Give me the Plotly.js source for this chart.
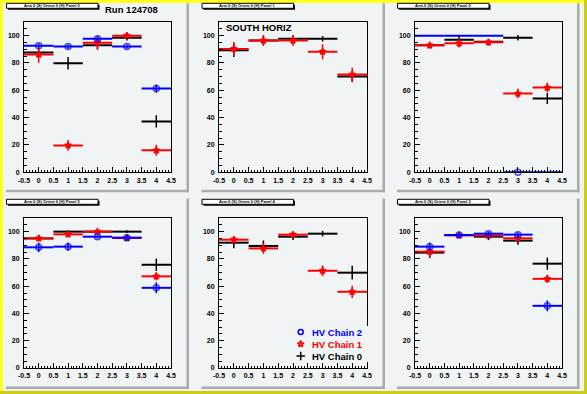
<!DOCTYPE html>
<html>
<head>
<meta charset="utf-8">
<script src="https://cdn.plot.ly/plotly-3.0.1.min.js"></script>
<style>
html,body{margin:0;padding:0;background:#f1f4f4;}
#chart{width:587px;height:394px;}
</style>
</head>
<body>
<div id="chart"></div>
<script>
// ---------------- data ----------------
const bins = [0, 1, 2, 3, 4];
const xTickVals = [-0.5, 0, 0.5, 1, 1.5, 2, 2.5, 3, 3.5, 4, 4.5];
const xTickText = ['-0.5', '0', '0.5', '1', '1.5', '2', '2.5', '3', '3.5', '4', '4.5'];
const yTickVals = [0, 20, 40, 60, 80, 100];
const yTickText = ['0', '20', '40', '60', '80', '100'];

const panelTitles = [
  'Arm 0 (S) Orient 0 (H) Panel 0', 'Arm 0 (S) Orient 0 (H) Panel 1', 'Arm 0 (S) Orient 0 (H) Panel 2',
  'Arm 0 (S) Orient 0 (H) Panel 5', 'Arm 0 (S) Orient 0 (H) Panel 4', 'Arm 0 (S) Orient 0 (H) Panel 3'
];
const seriesNames = ['HV Chain 0', 'HV Chain 1', 'HV Chain 2'];
const runLabel = 'Run 124708';
const regionLabel = 'SOUTH HORIZ';

// HV Chain 0 (black) – one row per panel
const chain0 = [
  [87.6, 79.8, 92.9, 98.5, 37.2],
  [89.3, 96.4, 97.8, 97.8, 70.1],
  [93.0, 97.1, 95.6, 98.5, 54.0],
  [95.0, 100.0, 100.0, 100.0, 75.7],
  [91.9, 89.5, 96.3, 98.5, 69.9],
  [84.6, 97.5, 96.3, 93.4, 76.5]
];
const chain0Err = [
  [2, 4.5, 3, 2, 4.5],
  [5, 3, 2, 2, 4],
  [2, 2.5, 2, 2, 4],
  [2, 1, 1, 1, 4.5],
  [4, 4, 2.5, 2, 5],
  [4, 1.5, 2.5, 3, 4.5]
];
// HV Chain 1 (red)
const chain1 = [
  [86.2, 19.7, 94.9, 100.0, 16.1],
  [90.3, 96.4, 96.4, 88.3, 71.5],
  [92.9, 94.4, 95.1, 57.7, 62.0],
  [95.1, 98.0, 100.0, 95.3, 67.2],
  [94.1, 87.7, 97.8, 71.3, 55.9],
  [85.3, 97.3, 97.1, 95.1, 65.4]
];
const chain1Err = [
  [6, 4, 5, 0.5, 4],
  [5, 4, 4, 5.5, 5],
  [2.5, 3, 2.5, 3.5, 3.5],
  [2, 2, 1, 1.5, 3],
  [2.5, 4, 2, 4, 4.5],
  [4, 1.5, 1.5, 2, 3]
];
// HV Chain 2 (blue)
const chain2 = [
  [92.7, 92.0, 97.8, 92.0, 61.3],
  [null, null, null, null, null],
  [100.0, 100.0, 100.0, 0.0, 0.0],
  [88.5, 89.0, 96.3, 95.6, 58.8],
  [null, null, null, null, null],
  [89.0, 97.5, 98.5, 97.8, 45.6]
];
const chain2Err = [
  [1.5, 1.5, 1.5, 1.5, 3],
  [0, 0, 0, 0, 0],
  [0, 0, 0, 1, 0],
  [3.5, 3, 1.5, 2, 4],
  [0, 0, 0, 0, 0],
  [3, 1.5, 1.5, 1.5, 4]
];
// whether a blue marker is drawn for a bin
const chain2Marked = [
  [1, 1, 1, 1, 1],
  [0, 0, 0, 0, 0],
  [0, 0, 0, 1, 0],
  [1, 1, 1, 1, 1],
  [0, 0, 0, 0, 0],
  [1, 1, 1, 1, 1]
];

// ---------------- styling / layout helpers ----------------
const W = 587, H = 394;
const PX = v => v / W;
const PY = v => 1 - v / H;
const BG = '#f1f4f4';
const colFrame = [[24, 171], [219, 367], [415, 562]];
const rowFrame = [[22, 172.3], [218, 368]];
const padX = [[6, 189], [201.5, 385], [397, 579.5]];
const padY = [[3.3, 192.3], [198.5, 389]];
const boxY = [[3.3, 8.3], [199.3, 204.3]];
const colors = ['#000000', '#ff0000', '#0000ff'];
const TF = 'Liberation Sans, Arial, sans-serif';

const traces = [];
const layout = {
  width: W, height: H,
  margin: {l: 0, r: 0, t: 0, b: 0},
  paper_bgcolor: BG, plot_bgcolor: BG,
  showlegend: false,
  shapes: [], annotations: []
};

function rect(x0, x1, y0, y1, fill, line, layer) {
  return {type: 'rect', xref: 'paper', yref: 'paper', x0: PX(x0), x1: PX(x1), y0: PY(y1), y1: PY(y0),
    fillcolor: fill, line: line || {width: 0}, layer: layer || 'below'};
}

// canvas border (yellow, raised)
layout.shapes.push(rect(0, 3, 0, 394, '#ffff20'));
layout.shapes.push(rect(0, 587, 0, 3, '#ffff20'));
layout.shapes.push(rect(584, 587, 0, 394, '#cccc10'));
layout.shapes.push(rect(0, 587, 391, 394, '#cccc10'));

const allSeries = [[chain0, chain0Err], [chain1, chain1Err], [chain2, chain2Err]];

for (let p = 0; p < 6; p++) {
  const c = p % 3, r = Math.floor(p / 3);
  const n = p + 1;
  const xa = 'xaxis' + (n === 1 ? '' : n), ya = 'yaxis' + (n === 1 ? '' : n);
  const xr = 'x' + (n === 1 ? '' : n), yr = 'y' + (n === 1 ? '' : n);
  layout[xa] = {
    domain: [PX(colFrame[c][0]), PX(colFrame[c][1])], anchor: yr,
    range: [-0.5, 4.5], tickmode: 'array', tickvals: xTickVals, ticktext: xTickText,
    ticks: 'inside', ticklen: 5, tickwidth: 1, tickcolor: '#000',
    minor: {tickmode: 'linear', tick0: -0.5, dtick: 0.1, ticks: 'inside', ticklen: 2.5, tickwidth: 1, tickcolor: '#000', showgrid: false},
    showline: true, mirror: true, linecolor: '#000', linewidth: 1,
    showgrid: false, zeroline: false, fixedrange: true,
    tickfont: {family: TF, size: 7, weight: 'bold', color: '#000'}, ticklabelstandoff: 1
  };
  layout[ya] = {
    domain: [PY(rowFrame[r][1]), PY(rowFrame[r][0])], anchor: xr,
    range: [0, 110], tickmode: 'array', tickvals: yTickVals, ticktext: yTickText,
    ticks: 'inside', ticklen: 5, tickwidth: 1, tickcolor: '#000',
    minor: {tickmode: 'linear', tick0: 0, dtick: 5, ticks: 'inside', ticklen: 2.5, tickwidth: 1, tickcolor: '#000', showgrid: false},
    showline: true, mirror: true, linecolor: '#000', linewidth: 1,
    showgrid: false, zeroline: false, fixedrange: true,
    tickfont: {family: TF, size: 7, weight: 'bold', color: '#000'}, ticklabelstandoff: 2
  };

  // pad shadow (right & bottom)
  layout.shapes.push(rect(padX[c][1] - 2.5, padX[c][1], padY[r][0], padY[r][1], '#aaaaaa'));
  layout.shapes.push(rect(padX[c][0], padX[c][1], padY[r][1] - 2.5, padY[r][1], '#aaaaaa'));

  // small title box with shadow
  const bx0 = padX[c][0] + 0.5, bx1 = padX[c][0] + 92;
  layout.shapes.push(rect(bx0 + 1.5, bx1 + 1.5, boxY[r][0] + 1.5, boxY[r][1] + 1.5, '#000', {width: 0}, 'above'));
  layout.shapes.push(rect(bx0, bx1, boxY[r][0], boxY[r][1], '#ffffff', {color: '#000', width: 1}, 'above'));
  layout.annotations.push({xref: 'paper', yref: 'paper', x: PX((bx0 + bx1) / 2), y: PY((boxY[r][0] + boxY[r][1]) / 2),
    text: panelTitles[p], showarrow: false, xanchor: 'center', yanchor: 'middle',
    font: {family: TF, size: 4, color: '#000', weight: 'bold'}});

  // data: black, red, blue
  allSeries.forEach(([vals, errs], s) => {
    let marker;
    if (s === 0) marker = {size: 1, opacity: 0, color: colors[0]};
    else if (s === 1) marker = {symbol: 'star-open', size: 5, color: colors[1], line: {width: 1.5, color: colors[1]}};
    else marker = {symbol: 'circle-open', size: chain2Marked[p].map(m => m ? 6 : 0), color: colors[2], line: {width: 1.5, color: colors[2]}};
    traces.push({
      type: 'scatter', mode: 'markers', xaxis: xr, yaxis: yr,
      x: bins, y: vals[p], marker: marker, cliponaxis: false,
      error_x: {type: 'constant', value: 0.5, width: 0, thickness: 2, color: colors[s]},
      error_y: {type: 'data', array: errs[p], width: 0, thickness: 1.5, color: colors[s]},
      hoverinfo: 'skip', showlegend: false
    });
  });
}

// pad texts
layout.annotations.push({xref: 'paper', yref: 'paper', x: PX(131), y: PY(9), text: '<b>' + runLabel + '</b>',
  showarrow: false, xanchor: 'center', yanchor: 'middle', font: {family: TF, size: 9.5, color: '#000'}});
layout.annotations.push({xref: 'paper', yref: 'paper', x: PX(259), y: PY(27.3), text: '<b>' + regionLabel + '</b>',
  showarrow: false, xanchor: 'center', yanchor: 'middle', font: {family: TF, size: 9.5, color: '#000'}});

// legend (in panel 5) drawn on a hidden axis pair
layout.xaxis7 = {domain: [PX(300.7), PX(370)], range: [0, 69.3], visible: false, fixedrange: true, anchor: 'y7'};
layout.yaxis7 = {domain: [PY(362), PY(326)], range: [-0.5, 2.5], visible: false, fixedrange: true, anchor: 'x7'};
const legendSymbols = ['cross-thin-open', 'star-open', 'circle-open'];
const legendSizes = [6, 5, 5];
[2, 1, 0].forEach(s => {
  traces.push({
    type: 'scatter', mode: 'markers', xaxis: 'x7', yaxis: 'y7',
    x: [0], y: [s],
    marker: {symbol: legendSymbols[s], size: legendSizes[s], color: colors[s], line: {width: 1.5, color: colors[s]}},
    cliponaxis: false, hoverinfo: 'skip', showlegend: false
  });
  layout.annotations.push({xref: 'x7', yref: 'y7', x: 10, y: s, text: '<b>' + seriesNames[s] + '</b>',
    showarrow: false, xanchor: 'left', yanchor: 'middle', xshift: -1,
    font: {family: TF, size: 9.5, color: colors[s]}});
});

Plotly.newPlot('chart', traces, layout, {staticPlot: true, displayModeBar: false});
</script>
</body>
</html>
